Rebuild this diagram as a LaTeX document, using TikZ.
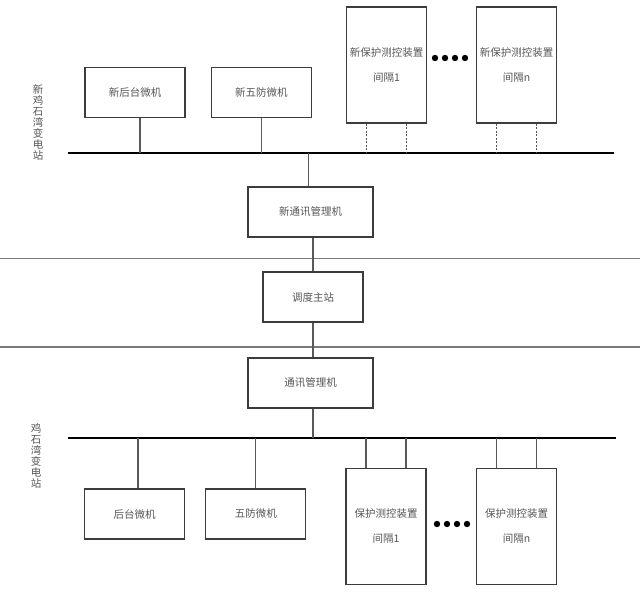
\documentclass[tikz,border=0pt]{standalone}
\usepackage{fontspec}
\newfontfamily\cjk{Noto Sans CJK SC}
\usepackage{xcolor}
\usepackage{tikz}
\usetikzlibrary{positioning}

\definecolor{boxline}{HTML}{3C3C3C}
\definecolor{boxtext}{HTML}{555555}
\definecolor{sepline}{HTML}{7A7A7A}

\begin{document}
\begin{tikzpicture}[
    x=1pt,y=-1pt,
    box/.style={draw=boxline,line width=1.3pt,align=center,minimum width=100pt,minimum height=50pt,inner sep=0pt,text=boxtext,font=\cjk\fontsize{10.5}{25}\selectfont},
    bay/.style={box,minimum width=80pt,minimum height=116pt},
    commbox/.style={box,minimum width=125pt},
    link/.style={draw=boxline!85,line width=1.3pt},
    bus/.style={line width=2.6pt},
    sep/.style={draw=sepline,line width=1.2pt},
    side/.style={align=center,text=boxtext,font=\cjk\fontsize{10.5}{11}\selectfont}
  ]
    \useasboundingbox (0,0) rectangle (640,612);
    % new station
    \node[side] (newname) at (38,122.5) {新\\鸡\\石\\湾\\变\\电\\站};
    \node[box] (newhost) at (135,92.5) {新后台微机};
    \node[box,right=25pt of newhost] (newlock) {新五防微机};
    \node[bay] (newbay1) at (386.5,65) {新保护测控装置\\间隔1};
    \node[bay] (newbayn) at (516.5,65) {新保护测控装置\\间隔n};
    \foreach \i in {0,...,3}
      \fill ({435+10*\i},58) circle[radius=3.2pt];
    \coordinate (topbusL) at (68,153);
    \coordinate (topbusR) at (614,153);
    \draw[bus] (topbusL) -- (topbusR);
    \draw[link] ([xshift=5pt]newhost.south) -- ([xshift=5pt]newhost.south |- topbusL);
    \draw[link] (newlock.south) -- (newlock.south |- topbusL);
    \foreach \b in {newbay1,newbayn}
      \foreach \dx in {-20,20}
        \draw[link,dash pattern=on 2pt off 1.5pt] ([xshift=\dx pt]\b.south) -- ([xshift=\dx pt]\b.south |- topbusL);
    \node[commbox] (newcomm) at (310.5,212) {新通讯管理机};
    \draw[link] ([xshift=-2pt]newcomm.north |- topbusL) -- ([xshift=-2pt]newcomm.north);
    % dispatch centre
    \coordinate (sep1L) at (0,258.5);
    \coordinate (sep1R) at (640,258.5);
    \coordinate (sep2L) at (0,347);
    \coordinate (sep2R) at (640,347);
    \draw[sep] (sep1L) -- (sep1R);
    \draw[sep] (sep2L) -- (sep2R);
    \node[box] (dispatch) at (313,297) {调度主站};
    \draw[link] (dispatch.north) -- (dispatch.north |- newcomm.south);
    % old station
    \node[commbox] (comm) at (310.5,383) {通讯管理机};
    \draw[link] (dispatch.south) -- (dispatch.south |- comm.north);
    \coordinate (botbusL) at (68,438);
    \coordinate (botbusR) at (616,438);
    \draw[bus] (botbusL) -- (botbusR);
    \draw[link] (dispatch.south |- comm.south) -- (dispatch.south |- botbusL);
    \node[side] (name) at (36,456) {鸡\\石\\湾\\变\\电\\站};
    \node[box] (host) at (134.5,514) {后台微机};
    \node[box,right=20pt of host] (lock) {五防微机};
    \node[bay] (bay1) at (386,526.5) {保护测控装置\\间隔1};
    \node[bay] (bayn) at (516.5,526.5) {保护测控装置\\间隔n};
    \foreach \i in {0,...,3}
      \fill ({437+10*\i},524) circle[radius=3.2pt];
    \draw[link] ([xshift=3.5pt]host.north) -- ([xshift=3.5pt]host.north |- botbusL);
    \draw[link] (lock.north) -- (lock.north |- botbusL);
    \foreach \b in {bay1,bayn}
      \foreach \dx in {-20,20}
        \draw[link] ([xshift=\dx pt]\b.north) -- ([xshift=\dx pt]\b.north |- botbusL);
  \end{tikzpicture}
\end{document}
